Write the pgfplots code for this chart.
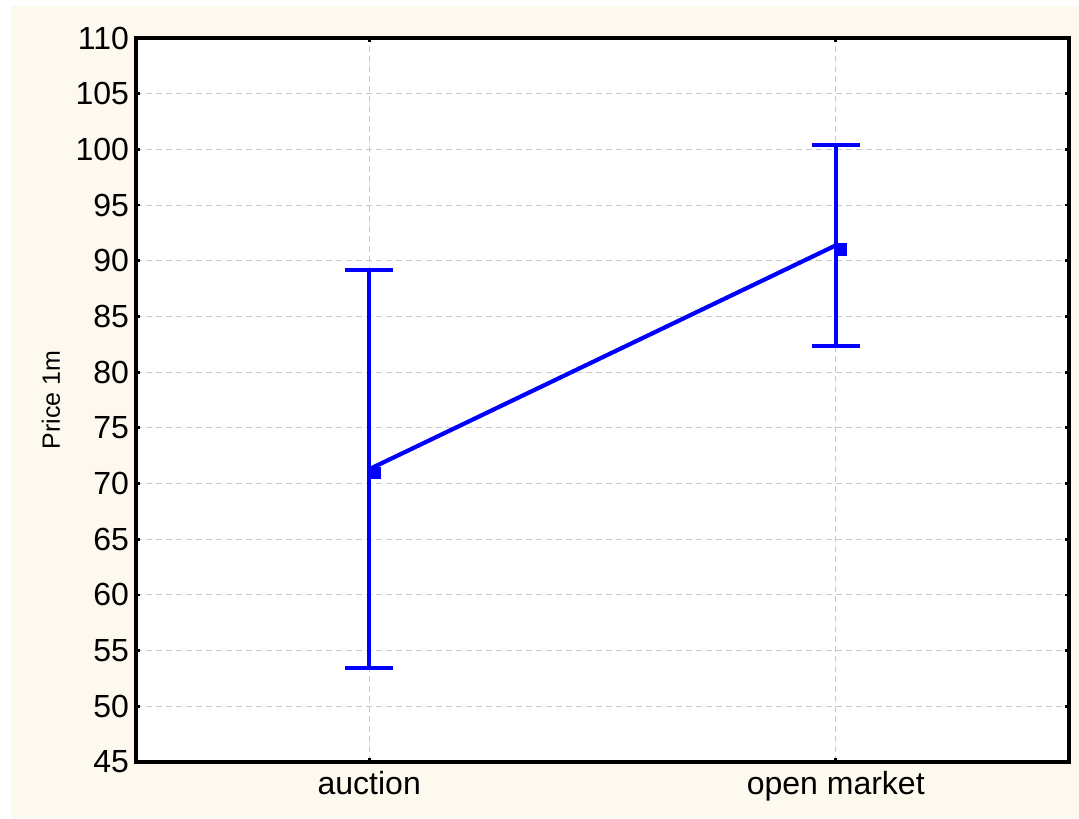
\documentclass[border=0pt]{standalone}
\usepackage{fontspec}
\setmainfont{Liberation Sans}
\usepackage{pgfplots}
\pgfplotsset{compat=1.18}
\definecolor{panelcream}{HTML}{FEF9EE}
\definecolor{gridgray}{HTML}{C8C8C8}
\definecolor{meanblue}{RGB}{0,0,255}

% means and half-widths of the intervals
\pgfplotstableread{
x  mean   err
0  71.29  17.88
1  91.38  9.01
}\pricedata

\begin{document}
\begin{tikzpicture}
\path[use as bounding box, fill=white] (-68pt,-28pt) rectangle (471.5pt,381pt);
\fill[panelcream] (-62.5pt,-28pt) rectangle (471.5pt,378pt);
\begin{axis}[
  at={(0,0)}, anchor=south west,
  scale only axis, width=466.5pt, height=362pt,
  axis background/.style={fill=white},
  xmin=-0.5, xmax=1.5,
  ymin=45, ymax=110,
  xtick={0,1},
  xticklabels={auction, open market},
  ytick={45,50,...,110},
  tick align=inside,
  major tick length=2pt,
  tick style={black, line width=1.4pt},
  axis line style={black, line width=2pt},
  grid=major,
  major grid style={gridgray, line width=0.5pt, dash pattern=on 3pt off 2pt},
  /pgf/number format/assume math mode=true,
  tick label style={font=\fontsize{16}{18}\selectfont, black},
  xticklabel style={yshift=-1pt},
  ylabel={Price 1m},
  ylabel style={font=\fontsize{12.5}{14}\selectfont, at={(axis description cs:0,0.5)}, anchor=center, yshift=42.5pt},
  clip=false,
]
\addplot[
  meanblue, line width=2.1pt,
  mark=square*, mark size=2.1pt,
  mark options={solid, xshift=2.5pt, yshift=-2pt},
  error bars/.cd,
    y dir=both, y explicit,
    error bar style={meanblue, line width=2.1pt},
    error mark options={rotate=90, meanblue, mark size=12pt, line width=2.1pt},
] table[x=x, y=mean, y error=err] {\pricedata};
\end{axis}
\end{tikzpicture}
\end{document}
